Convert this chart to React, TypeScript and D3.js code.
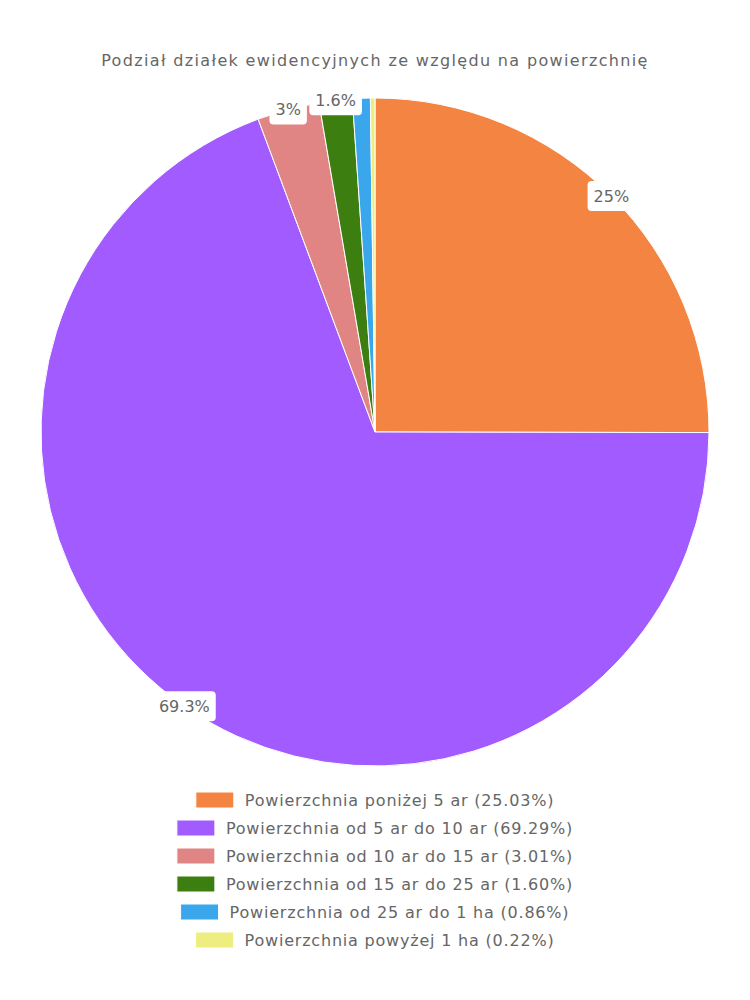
import React, { useEffect, useRef } from 'react';
import * as d3 from 'd3';

const title = 'Podział działek ewidencyjnych ze względu na powierzchnię';
const categories = [
    'Powierzchnia poniżej 5 ar',
    'Powierzchnia od 5 ar do 10 ar',
    'Powierzchnia od 10 ar do 15 ar',
    'Powierzchnia od 15 ar do 25 ar',
    'Powierzchnia od 25 ar do 1 ha',
    'Powierzchnia powyżej 1 ha'
];
const values = [25.03, 69.29, 3.01, 1.6, 0.86, 0.22];
const colors = ['#f48442', '#a25bfe', '#e08484', '#3c7e10', '#3aa6ec', '#eeee80'];

const FONT = '"DejaVu Sans", "Open Sans", sans-serif';

const App: React.FC = () => {
    const svgRef = useRef<SVGSVGElement>(null);

    useEffect(() => {
        if (!svgRef.current) return;
        const svg = d3.select(svgRef.current);
        svg.selectAll('*').remove();

        const cx = 375;
        const cy = 432;
        const radius = 334;

        svg.append('text')
            .attr('x', cx)
            .attr('y', 66)
            .attr('text-anchor', 'middle')
            .attr('font-family', FONT)
            .attr('font-size', '16px')
            .attr('letter-spacing', '1.35px')
            .attr('fill', '#666')
            .text(title);

        const pie = d3.pie<number>().sort(null).value(d => d);
        const arcs = pie(values);
        const arc = d3.arc<d3.PieArcDatum<number>>().innerRadius(0).outerRadius(radius);

        const g = svg.append('g').attr('transform', `translate(${cx},${cy})`);

        g.selectAll('.slice')
            .data(arcs)
            .enter()
            .append('path')
            .attr('class', 'slice')
            .attr('d', arc)
            .attr('fill', (_, i) => colors[i])
            .attr('stroke', '#fff')
            .attr('stroke-width', 1);

        // labels sit on the outer edge, hidden for tiny slices
        const fmt = (v: number) => `${+v.toFixed(1)}%`;
        const labels = g.selectAll('.lbl')
            .data(arcs.filter(a => a.data >= 1))
            .enter()
            .append('g')
            .attr('class', 'lbl')
            .attr('transform', d => {
                const a = (d.startAngle + d.endAngle) / 2;
                return `translate(${radius * Math.sin(a)},${-radius * Math.cos(a)})`;
            });

        labels.each(function (d) {
            const node = d3.select(this);
            const t = node.append('text')
                .attr('text-anchor', 'middle')
                .attr('dy', '0.35em')
                .attr('font-family', FONT)
                .attr('font-size', '16px')
                .attr('fill', '#666')
                .text(fmt(d.data));
            const w = (t.node() as SVGTextElement).getComputedTextLength();
            node.insert('rect', 'text')
                .attr('x', -w / 2 - 6)
                .attr('y', -15)
                .attr('width', w + 12)
                .attr('height', 30)
                .attr('rx', 4)
                .attr('fill', '#fff');
        });

        // legend
        const legend = svg.append('g');
        categories.forEach((c, i) => {
            const y = 800 + i * 28;
            const row = legend.append('g');
            const t = row.append('text')
                .attr('y', y)
                .attr('dy', '0.35em')
                .attr('font-family', FONT)
                .attr('font-size', '16px')
                .attr('letter-spacing', '0.8px')
                .attr('fill', '#666')
                .text(`${c} (${values[i].toFixed(2)}%)`);
            const w = (t.node() as SVGTextElement).getComputedTextLength();
            const total = 38 + 11 + w;
            const x0 = cx - total / 2;
            row.append('rect')
                .attr('x', x0)
                .attr('y', y - 8)
                .attr('width', 38)
                .attr('height', 16)
                .attr('fill', colors[i])
                .attr('stroke', '#fff')
                .attr('stroke-width', 1);
            t.attr('x', x0 + 49);
        });
    }, []);

    return (
        <svg
            ref={svgRef}
            width={750}
            height={1000}
            style={{ position: 'absolute', left: 0, top: 0, background: '#fff' }}
        />
    );
};

export default App;
